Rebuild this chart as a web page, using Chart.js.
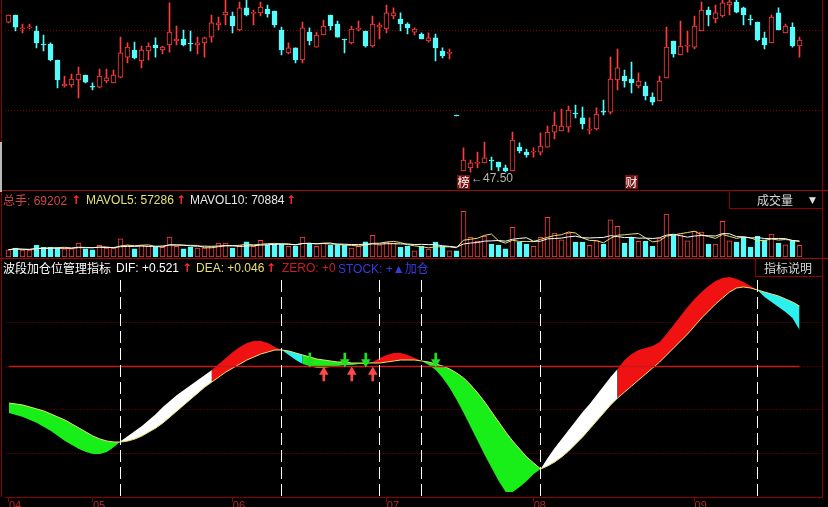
<!DOCTYPE html>
<html><head><meta charset="utf-8">
<script src="https://cdn.jsdelivr.net/npm/chart.js@4.4.0/dist/chart.umd.min.js"></script>
<style>
html,body{margin:0;padding:0;background:#000;}
#wrap{position:relative;width:828px;height:507px;overflow:hidden;background:#000;font-family:"Liberation Sans","Noto Sans CJK SC",sans-serif;font-size:12px;}
canvas{position:absolute;left:0;}
.t{position:absolute;white-space:nowrap;line-height:14px;font-size:12px;}
.hl{position:absolute;height:1px;background:#9a0c0c;left:0;width:828px;}
.vl{position:absolute;width:1px;background:#8c0000;}
.ar{position:absolute;color:#ff2a2a;font-weight:bold;font-family:"DejaVu Sans";font-size:12px;line-height:14px;}
.cn{font-family:"Noto Sans CJK SC",sans-serif;}
</style></head><body>
<div id="wrap">
<canvas id="cPrice" width="828" height="190" style="top:0"></canvas>
<canvas id="cVol" width="828" height="67" style="top:191px"></canvas>
<canvas id="cInd" width="828" height="248" style="top:259px"></canvas>

<div class="hl" style="top:190px"></div>
<div class="hl" style="top:258px"></div>
<div class="vl" style="left:822px;top:0;height:497px"></div>
<div class="vl" style="left:1px;top:0;height:497px"></div>
<div style="position:absolute;left:0;top:142px;width:2px;height:50px;background:#b8b8b8"></div>

<!-- price panel marks -->
<div class="t cn" style="left:457px;top:175px;width:13px;height:14px;background:#7a1212;color:#fff;text-align:center">榜</div>
<div class="t cn" style="left:625px;top:175px;width:13px;height:14px;background:#7a1212;color:#fff;text-align:center">财</div>
<div class="t" id="lowTag" style="left:471px;top:171px;color:#b4b4b4"></div>

<!-- volume legend -->
<div class="t" style="left:3px;top:193px;color:#d04848"><span class="cn">总手</span>: 69202</div>
<div class="ar" style="left:71px;top:193px">↑</div>
<div class="t" style="left:86px;top:193px;color:#e6e070">MAVOL5: 57286</div>
<div class="ar" style="left:176px;top:193px">↑</div>
<div class="t" style="left:190px;top:193px;color:#e8e8e8">MAVOL10: 70884</div>
<div class="ar" style="left:286px;top:193px">↑</div>
<div style="position:absolute;left:729px;top:190px;width:93px;height:19px;border-left:1px solid #8c0000;border-bottom:1px solid #8c0000;box-sizing:border-box"></div>
<div class="t cn" style="left:757px;top:193px;color:#d8d8d8">成交量</div>
<div class="t" style="left:809px;top:193px;color:#e0e0e0;font-size:9px;font-family:'DejaVu Sans'">▼</div>

<!-- indicator legend -->
<div class="t cn" style="left:3px;top:261px;color:#ffffff">波段加仓位管理指标</div>
<div class="t" style="left:116px;top:261px;color:#ffffff">DIF: +0.521</div>
<div class="ar" style="left:182px;top:261px">↑</div>
<div class="t" style="left:196px;top:261px;color:#e6e070">DEA: +0.046</div>
<div class="ar" style="left:266px;top:261px">↑</div>
<div class="t" style="left:282px;top:261px;color:#c82020">ZERO: +0</div>
<div class="t" style="left:338px;top:261px;color:#3a3ae0">STOCK: +▲<span class="cn">加仓</span></div>
<div style="position:absolute;left:755px;top:258px;width:67px;height:19px;border-left:1px solid #8c0000;border-bottom:1px solid #8c0000;box-sizing:border-box"></div>
<div class="t cn" style="left:764px;top:261px;color:#d8d8d8">指标说明</div>
</div>

<script>
// ---------- data ----------
const openP = [60.70,61.32,60.09,60.18,59.91,58.72,58.77,57.36,55.07,55.16,
55.60,56.04,55.02,54.98,55.51,55.34,55.86,57.62,58.24,57.27,
58.15,58.68,58.24,58.68,59.03,59.21,58.79,58.68,58.86,59.38,
60.44,61.32,61.23,60.00,61.94,61.46,61.50,61.85,61.67,60.00,
57.98,58.42,57.36,59.82,58.50,59.56,61.32,60.53,59.21,58.86,
60.05,59.91,58.59,60.26,60.09,61.23,60.97,60.53,59.82,59.65,
59.03,59.30,58.15,57.94,52.43,47.59,47.86,48.26,48.30,48.50,
48.38,47.86,47.59,49.70,49.26,49.24,49.26,49.70,51.02,51.11,
51.46,52.63,52.26,51.18,51.29,52.80,52.78,55.60,55.95,55.69,
55.07,55.07,54.10,53.75,55.78,59.03,57.80,58.57,58.50,59.91,
61.76,60.97,61.23,62.20,62.46,61.94,60.90,60.70,59.30,58.86,
61.50,59.74,60.26,58.59];
const highP = [61.32,61.32,60.53,60.53,60.35,59.56,58.86,57.36,55.95,56.13,
56.74,56.04,55.34,56.57,56.57,56.48,59.38,58.86,58.94,58.59,
58.86,59.30,58.59,62.38,60.35,60.00,59.91,59.38,59.38,61.32,
61.14,62.64,61.58,62.46,62.64,61.76,62.46,62.20,61.67,60.26,
58.86,58.42,60.70,60.18,59.82,60.88,61.32,60.79,59.21,60.35,
60.79,59.91,61.23,60.62,62.20,61.94,61.50,60.62,60.18,59.74,
59.74,59.65,58.42,58.33,52.43,49.62,48.56,49.26,50.14,48.82,
48.38,48.12,51.02,50.06,49.53,49.62,50.94,51.55,52.78,53.05,
53.31,53.40,53.22,52.26,53.14,53.84,57.62,58.33,56.48,57.18,
56.22,55.42,54.46,55.95,60.26,59.03,60.79,59.91,61.23,62.46,
62.02,62.20,62.64,62.64,62.64,62.02,61.32,60.70,59.82,61.32,
61.94,60.53,60.62,59.38];
const lowP = [60.62,59.91,59.74,60.09,58.42,58.15,57.27,54.90,54.98,54.98,
54.02,55.34,54.72,54.90,55.34,55.34,55.78,57.10,57.45,56.66,
57.36,57.62,57.89,58.06,58.68,58.59,58.15,57.89,57.62,58.94,
60.00,60.44,59.74,59.91,61.23,60.44,61.23,61.14,60.26,57.80,
57.89,57.10,57.10,58.68,58.50,59.56,60.00,59.38,57.98,58.77,
59.91,58.50,58.50,59.21,59.74,60.97,59.91,59.65,59.56,59.21,
58.94,57.27,57.54,57.45,52.43,47.59,47.50,47.86,48.30,47.68,
47.59,47.52,47.59,49.18,48.82,48.82,49.00,49.70,50.41,51.11,
51.02,52.26,51.29,50.85,51.20,52.52,52.61,54.72,54.98,54.46,
54.90,53.84,53.40,53.75,55.78,57.62,57.80,58.06,58.33,59.91,
60.35,60.62,61.14,61.32,61.50,60.44,60.44,59.03,58.33,58.86,
60.00,59.74,58.50,57.62];
const closeP = [61.32,60.26,60.18,60.26,58.86,58.68,57.36,55.60,55.25,55.69,
56.13,55.42,54.98,55.95,55.78,56.04,57.98,58.50,57.54,58.24,
58.59,58.42,58.50,59.82,59.21,58.68,58.77,58.86,59.30,60.62,
60.62,61.58,60.35,61.94,61.32,61.50,62.02,61.41,60.44,58.24,
58.42,57.36,60.18,59.03,59.56,60.35,60.35,59.38,59.12,60.09,
60.09,58.59,60.53,60.44,61.50,61.50,60.53,60.18,60.09,59.21,
59.30,58.42,57.71,57.98,52.43,48.56,48.30,48.30,48.74,48.47,
47.94,47.59,50.32,49.35,49.00,49.26,49.79,51.02,51.64,51.55,
52.96,52.61,51.73,51.20,52.61,52.78,55.69,56.66,55.51,55.34,
55.51,54.19,53.66,55.51,58.50,57.89,58.59,58.59,60.35,61.76,
61.32,61.50,62.38,62.46,61.58,61.32,60.88,59.12,58.68,61.14,
60.00,60.35,58.59,59.12];
const volume = [27700,34200,26600,26600,44500,36900,36900,34200,31500,31500,
53200,31500,27700,44500,34200,34200,69500,44500,31500,44500,
40700,36900,36900,76000,40700,31500,36900,34200,34200,36900,
53200,53200,34200,44500,58100,40700,63500,46700,49400,49400,
40700,40700,76000,53200,40700,53200,44500,44500,44500,34200,
40700,58100,82500,46700,55900,53200,36900,41800,23900,40700,
30400,57000,40700,23900,23900,173700,74900,59700,78700,49400,
44500,31500,112900,57000,49400,40700,74900,150900,91200,65700,
91200,57000,57000,44500,61900,49400,141700,116700,53200,74900,
59700,59700,40700,72200,163400,82500,84700,61900,97700,95000,
49400,49400,135700,61900,57000,74900,36900,78700,65700,87400,
53200,46700,61900,44500];
const deaLine = [-0.73,-0.75,-0.77,-0.81,-0.85,-0.89,-0.95,-1.01,-1.07,-1.15,
-1.23,-1.31,-1.39,-1.45,-1.49,-1.51,-1.51,-1.49,-1.45,-1.39,
-1.31,-1.23,-1.13,-1.01,-0.89,-0.77,-0.65,-0.53,-0.41,-0.31,
-0.21,-0.11,-0.03,0.05,0.13,0.19,0.25,0.29,0.33,0.33,
0.31,0.27,0.23,0.19,0.15,0.13,0.11,0.09,0.09,0.07,
0.07,0.07,0.07,0.07,0.09,0.11,0.13,0.13,0.13,0.11,
0.09,0.05,0.01,-0.05,-0.13,-0.23,-0.37,-0.53,-0.71,-0.91,
-1.11,-1.31,-1.49,-1.65,-1.81,-1.93,-2.05,-1.99,-1.91,-1.81,
-1.69,-1.55,-1.41,-1.25,-1.09,-0.93,-0.77,-0.63,-0.51,-0.39,
-0.27,-0.15,-0.03,0.09,0.23,0.37,0.51,0.65,0.81,0.97,
1.11,1.25,1.37,1.49,1.57,1.59,1.57,1.53,1.49,1.45,
1.41,1.35,1.29,1.21];
const difLine = [-0.93,-0.97,-1.01,-1.07,-1.13,-1.21,-1.29,-1.39,-1.49,-1.57,
-1.65,-1.71,-1.75,-1.75,-1.71,-1.61,-1.49,-1.39,-1.29,-1.19,
-1.07,-0.95,-0.81,-0.69,-0.57,-0.47,-0.37,-0.27,-0.17,-0.07,
0.05,0.17,0.29,0.39,0.47,0.51,0.51,0.47,0.39,0.33,
0.23,0.13,0.05,0.01,-0.03,-0.03,-0.01,0.01,0.03,0.03,
0.05,0.05,0.09,0.17,0.23,0.27,0.27,0.23,0.17,0.11,
0.03,-0.07,-0.23,-0.43,-0.67,-0.93,-1.21,-1.49,-1.77,-2.03,
-2.29,-2.51,-2.51,-2.41,-2.29,-2.15,-2.05,-1.83,-1.63,-1.45,
-1.27,-1.09,-0.91,-0.75,-0.57,-0.39,-0.21,-0.05,0.13,0.25,
0.33,0.37,0.41,0.49,0.65,0.83,1.01,1.19,1.35,1.49,
1.61,1.71,1.77,1.79,1.75,1.69,1.61,1.53,1.39,1.29,
1.19,1.09,0.97,0.73];
const zeroLine = openP.map(() => 0);
const phaseStartIdx = [0,16,29,39,42,52,59,76,87,107];
const phaseKind = ['fall','rise','up','top','fall','up','fall','rise','up','top'];
const signalIdx = [16,39,53,59,76,107];
const buyArrowIdx = [45,49,52];
const sellArrowIdx = [43,48,51,61];
const monthLabels = ['04','05','06','07','08','09'];
const monthStartIdx = [0,12,32,54,75,98];
const priceTicks = [60.00,52.96];
const volTicks = [178600,95000,38000];
const indTicks = [1.77,0.89,0,-0.85,-1.73];

// ---------- helpers ----------
const dayIdx = openP.map((_, i) => i);
const isUp = i => closeP[i] > openP[i];
const RED = '#ff3c3c', CYAN = '#54fcfc', FRAME = '#8c0000';
const X_MIN = -0.5, X_MAX = 116.286;
const PADL = 5, PADR = 5.5;
const FONT = {family:'Liberation Sans', size:12};
function movingAvg(arr, n){
  return arr.map((_, i) => { const s = arr.slice(Math.max(0, i-n+1), i+1); return s.reduce((a,b)=>a+b,0)/s.length; });
}
const ma5 = movingAvg(volume, 5), ma10 = movingAvg(volume, 10);
const phaseColors = {fall:'#18ee18', rise:'#ffffff', up:'#f01212', top:'#2cf0f0'};
function phaseAt(i){ let k = 0; phaseStartIdx.forEach((s, j) => { if (i >= s) k = j; }); return phaseKind[k]; }
document.getElementById('lowTag').textContent = '←' + Math.min(...lowP).toFixed(2);

const noFitPad = s => { s.width = 0; s.paddingTop = 0; s.paddingBottom = 0; };
const xHidden = {type:'linear', min:X_MIN, max:X_MAX, offset:false, display:false};
const common = {responsive:false, animation:false, devicePixelRatio:1,
  plugins:{legend:{display:false}, tooltip:{enabled:false}}};

// ---------- price ----------
new Chart(document.getElementById('cPrice'), {
  type:'bar',
  data:{datasets:[
    {order:1, data:dayIdx.map(i=>({x:i, y:[openP[i], closeP[i]]})), barThickness:5, minBarLength:1,
     borderWidth:1, borderSkipped:false, grouped:false,
     backgroundColor:c=>isUp(c.dataIndex)?'#000000':CYAN, borderColor:c=>isUp(c.dataIndex)?RED:CYAN},
    {order:2, data:dayIdx.map(i=>({x:i, y:[lowP[i], highP[i]]})), barThickness:1, minBarLength:1,
     borderWidth:0, grouped:false, backgroundColor:c=>isUp(c.dataIndex)?RED:CYAN}
  ]},
  options:{...common, layout:{padding:{left:PADL, right:PADR, top:0, bottom:0}},
    scales:{x:xHidden,
      y:{type:'linear', position:'right', min:45.92, max:62.64, afterFit:noFitPad,
         afterBuildTicks:s=>{ s.ticks = priceTicks.map(v=>({value:v})); },
         ticks:{autoSkip:false, padding:1, color:'#b02020', font:FONT, callback:v=>v.toFixed(2)},
         grid:{color:FRAME, drawTicks:false}, border:{display:false, dash:[1,2]}}}}
});

// ---------- volume ----------
new Chart(document.getElementById('cVol'), {
  type:'bar',
  data:{datasets:[
    {type:'line', order:0, data:dayIdx.map(i=>({x:i, y:ma10[i]})), borderColor:'#ffffff', borderWidth:1, pointRadius:0},
    {type:'line', order:0, data:dayIdx.map(i=>({x:i, y:ma5[i]})), borderColor:'#e8e070', borderWidth:1, pointRadius:0},
    {order:1, data:dayIdx.map(i=>({x:i, y:volume[i]})), barThickness:5, borderWidth:1, borderSkipped:false, grouped:false,
     backgroundColor:c=>isUp(c.dataIndex)?'#000000':CYAN, borderColor:c=>isUp(c.dataIndex)?RED:CYAN}
  ]},
  options:{...common, layout:{padding:{left:PADL, right:PADR, top:0, bottom:1}},
    scales:{x:xHidden,
      y:{type:'linear', position:'right', min:0, max:250800, afterFit:noFitPad,
         afterBuildTicks:s=>{ s.ticks = volTicks.map(v=>({value:v})); },
         ticks:{autoSkip:false, padding:1, color:'#b03a3a', font:FONT,
           callback:(v,idx)=> idx===volTicks.length-1 ? 'X10000' : (v/10000).toFixed(2)},
         grid:{display:false, drawTicks:false}, border:{display:false}}}}
});

// ---------- indicator ----------
const signalLines = {
  id:'signalLines',
  afterDatasetsDraw(chart){
    const {ctx, chartArea, scales} = chart;
    ctx.save();
    ctx.strokeStyle = '#ffffff'; ctx.lineWidth = 1; ctx.setLineDash([12,5]);
    signalIdx.forEach(i => {
      const x = Math.floor(scales.x.getPixelForValue(i)) + 0.5;
      ctx.beginPath(); ctx.moveTo(x, chartArea.top + 3); ctx.lineTo(x, chartArea.bottom); ctx.stroke();
    });
    ctx.restore();
  }
};
const BUY_C = '#ff4848', SELL_C = '#22dd22';
new Chart(document.getElementById('cInd'), {
  type:'line',
  data:{datasets:[
    {order:3, data:dayIdx.map(i=>({x:i, y:deaLine[i]})), borderColor:'#e8e070', borderWidth:1, pointRadius:0, fill:false},
    {order:4, data:dayIdx.map(i=>({x:i, y:difLine[i]})), borderColor:'rgba(0,0,0,0)', borderWidth:1, pointRadius:0,
     fill:'-1', backgroundColor:'#ffffff',
     segment:{backgroundColor:c=>phaseColors[phaseAt(c.p0DataIndex)]}},
    {order:2, data:dayIdx.map(i=>({x:i, y:zeroLine[i]})), borderColor:'#c81818', borderWidth:1.5, pointRadius:0, fill:false},
    {type:'bar', order:1, data:sellArrowIdx.map(i=>({x:i, y:[0.13,0.27]})), barThickness:2, grouped:false, backgroundColor:SELL_C},
    {order:1, data:sellArrowIdx.map(i=>({x:i, y:0.09})), showLine:false, pointStyle:'triangle', pointRadius:5.5,
     pointRotation:180, pointBackgroundColor:SELL_C, pointBorderWidth:0},
    {type:'bar', order:1, data:buyArrowIdx.map(i=>({x:i, y:[-0.29,-0.13]})), barThickness:2, grouped:false, backgroundColor:BUY_C},
    {order:1, data:buyArrowIdx.map(i=>({x:i, y:-0.11})), showLine:false, pointStyle:'triangle', pointRadius:5.5,
     pointRotation:0, pointBackgroundColor:BUY_C, pointBorderWidth:0}
  ]},
  options:{...common, layout:{padding:{left:PADL, right:PADR, top:18, bottom:0}},
    scales:{
      x:{type:'linear', min:X_MIN, max:X_MAX, offset:false, position:'bottom',
         afterBuildTicks:s=>{ s.ticks = monthStartIdx.map(v=>({value:v})); },
         afterFit:s=>{ s.height = 10; s.paddingLeft = 0; s.paddingRight = 0; },
         ticks:{autoSkip:false, align:'start', padding:-3, maxRotation:0, color:'#b82828',
           font:{family:'Liberation Sans', size:11}, callback:(v,idx)=>monthLabels[idx]},
         grid:{offset:false, drawOnChartArea:false, drawTicks:true, tickLength:5, color:FRAME},
         border:{display:true, color:FRAME}},
      y:{type:'linear', position:'right', min:-2.61, max:1.79, afterFit:noFitPad,
         afterBuildTicks:s=>{ s.ticks = indTicks.map(v=>({value:v})); },
         ticks:{autoSkip:false, padding:1, font:FONT, color:c=>c.tick.value>=0?'#c03030':'#30c030',
           callback:v=>(v>=0?'+':'')+v.toFixed(2)},
         grid:{drawTicks:false, color:c=>(c.tick && c.tick.value>1.5)?'rgba(0,0,0,0)':FRAME},
         border:{display:false, dash:[1,2]}}}},
  plugins:[signalLines]
});
</script>
</body></html>
